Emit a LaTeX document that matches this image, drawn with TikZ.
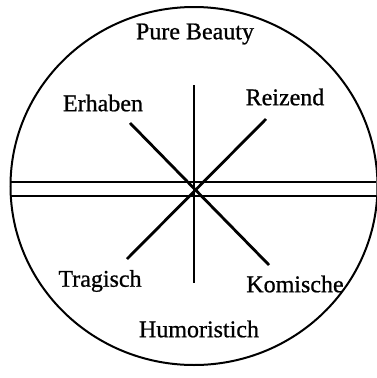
\documentclass[tikz,border=0pt]{standalone}
\usepackage{fontspec}
\setmainfont[FakeBold=0.8]{Liberation Serif}
\usetikzlibrary{shapes.geometric}
\begin{document}
\begin{tikzpicture}[x=1pt,y=-1pt,
  lbl/.style={font=\fontsize{24}{26}\selectfont, inner sep=0pt},
  spoke/.style={line width=2.8pt},
  rail/.style={line width=2.4pt}]
\useasboundingbox (0,0) rectangle (376,378);
\node[ellipse, draw, line width=2pt, minimum width=367pt, minimum height=358pt, inner sep=0pt] (C) at (194,186) {};
% double horizontal rails
\coordinate (hl1) at (11,182); \coordinate (hr1) at (376,182);
\coordinate (hl2) at (11,196); \coordinate (hr2) at (376,196);
\draw[rail] (hl1) -- (hr1);
\draw[rail] (hl2) -- (hr2);
% vertical
\coordinate (vt) at (194,85); \coordinate (vb) at (194,283);
\draw[line width=2.2pt] (vt) -- (vb);
% diagonals
\coordinate (d1a) at (130,123); \coordinate (d1b) at (269,265);
\coordinate (d2a) at (266,119); \coordinate (d2b) at (127,259);
\draw[spoke] (d1a) -- (d1b);
\draw[spoke] (d2a) -- (d2b);
% labels
\node[lbl] (pb) at (195,34) {Pure Beauty};
\node[lbl] (er) at (103,103) {Erhaben};
\node[lbl] (re) at (285,97) {Reizend};
\node[lbl] (tr) at (100,281) {Tragisch};
\node[lbl] (ko) at (295,284) {Komische};
\node[lbl] (hu) at (199,329) {Humoristich};
\end{tikzpicture}
\end{document}
